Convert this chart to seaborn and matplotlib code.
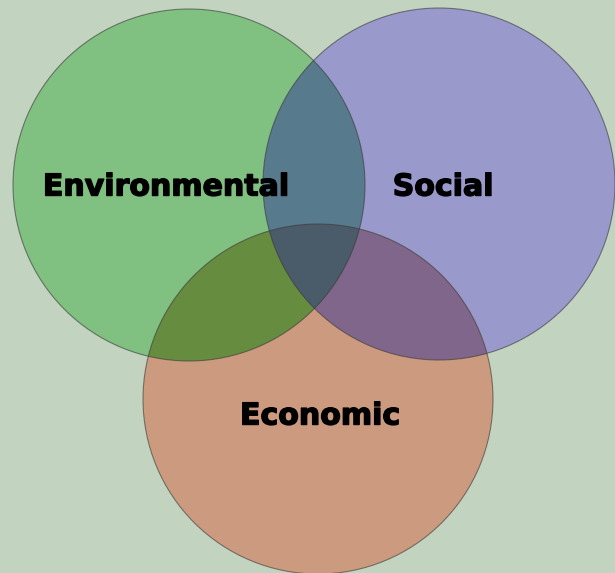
import numpy as np
import matplotlib
matplotlib.use("Agg")
import matplotlib.pyplot as plt
import matplotlib.patheffects as pe
import seaborn as sns
from itertools import combinations

# Venn sets (pixel-space layout of the reference)
sets = ["Environmental", "Social", "Economic"]
center_x = [189, 439, 318]
center_y = [185, 184, 399]
radius = [176, 176, 175]
label_x = [166, 443, 320]
label_y = [187, 187, 416]

# colours of every region as seen in the picture
single_colors = ["#80c080", "#9999cc", "#cc9a7f"]
pair_colors = {(0, 1): "#577a8c", (0, 2): "#668c40", (1, 2): "#80668a"}
triple_color = "#4a5b69"
bg_color = "#c2d4c0"

sns.set_theme(style="white")
plt.rcParams["font.family"] = ["DejaVu Sans"]


def inside(px, py, i):
    return (px - center_x[i]) ** 2 + (py - center_y[i]) ** 2 <= radius[i] ** 2 + 1e-6


def region_polygon(idx, n=3000):
    """Intersection of the given circles as a convex polygon."""
    pts = []
    t = np.linspace(0, 2 * np.pi, n, endpoint=False)
    for i in idx:
        xs = center_x[i] + radius[i] * np.cos(t)
        ys = center_y[i] + radius[i] * np.sin(t)
        keep = np.ones(n, dtype=bool)
        for j in idx:
            if j != i:
                keep &= inside(xs, ys, j)
        pts.append(np.column_stack([xs[keep], ys[keep]]))
    pts = np.vstack(pts)
    cx, cy = pts.mean(axis=0)
    order = np.argsort(np.arctan2(pts[:, 1] - cy, pts[:, 0] - cx))
    return pts[order]


fig = plt.figure(figsize=(6.15, 5.73), dpi=100)
fig.patch.set_facecolor(bg_color)
ax = fig.add_axes([0, 0, 1, 1])
ax.set_facecolor(bg_color)
ax.set_xlim(0, 615)
ax.set_ylim(573, 0)
ax.set_aspect("auto")
ax.axis("off")

for i in range(3):
    ax.add_patch(plt.Circle((center_x[i], center_y[i]), radius[i],
                            facecolor=single_colors[i], edgecolor="none"))
for pair in combinations(range(3), 2):
    ax.add_patch(plt.Polygon(region_polygon(pair), closed=True,
                             facecolor=pair_colors[pair], edgecolor="none"))
ax.add_patch(plt.Polygon(region_polygon((0, 1, 2)), closed=True,
                         facecolor=triple_color, edgecolor="none"))
for i in range(3):
    ax.add_patch(plt.Circle((center_x[i], center_y[i]), radius[i],
                            facecolor="none", edgecolor="#3a3a3a",
                            linewidth=0.8, alpha=0.6))

for name, x, y in zip(sets, label_x, label_y):
    ax.text(x, y, name, ha="center", va="center", fontsize=21.6,
            fontweight="bold", color="black",
            path_effects=[pe.withStroke(linewidth=1.0, foreground="black")])

fig.savefig("out.png", dpi=100, facecolor=bg_color)
